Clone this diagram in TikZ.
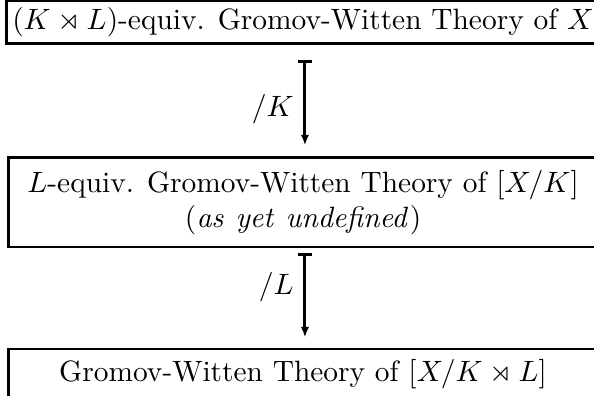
\documentclass[tikz,border=0pt]{standalone}
\usepackage{amsmath, amssymb}
\usepackage{tikz}
\usetikzlibrary{positioning, arrows.meta}

\begin{document}
\begin{tikzpicture}
% Define styles
\tikzstyle{box} = [rectangle, minimum width=7.05cm, inner sep=2pt, text centered, draw=black, line width=1pt]
\tikzstyle{arrow} = [line width=1pt, {Bar[width=4.5pt]}-{Latex[length=3.6pt,width=2.8pt]}]

% Frame of the picture
\useasboundingbox (0,0) rectangle (7.098,-4.720);

% Boxes
\node[box, minimum height=0.502cm] (equivKL) at (3.621,-0.263) {$(K \rtimes L)$-equiv. Gromov-Witten Theory of $X$};
\node[box, minimum height=1.064cm, align=center] (equivL) at (3.621,-2.419) {$L$-equiv. Gromov-Witten Theory of $[X/K]$\\($\mathit{as\ yet\ undefined}$)};
\node[box, minimum height=0.598cm] (quot) at (3.621,-4.469) {Gromov-Witten Theory of $[X/K \rtimes L]$};

% Arrows between the boxes
\draw[arrow, shorten <=0.180cm, shorten >=0.132cm] ([xshift=0.023cm]equivKL.south) -- node[pos=0.58, left] (modK) {$/K$} ([xshift=0.023cm]equivL.north);
\draw[arrow, shorten <=0.060cm, shorten >=0.119cm] ([xshift=0.023cm]equivL.south) -- node[pos=0.39, left] (modL) {$/L$} ([xshift=0.023cm]quot.north);

\end{tikzpicture}
\end{document}
